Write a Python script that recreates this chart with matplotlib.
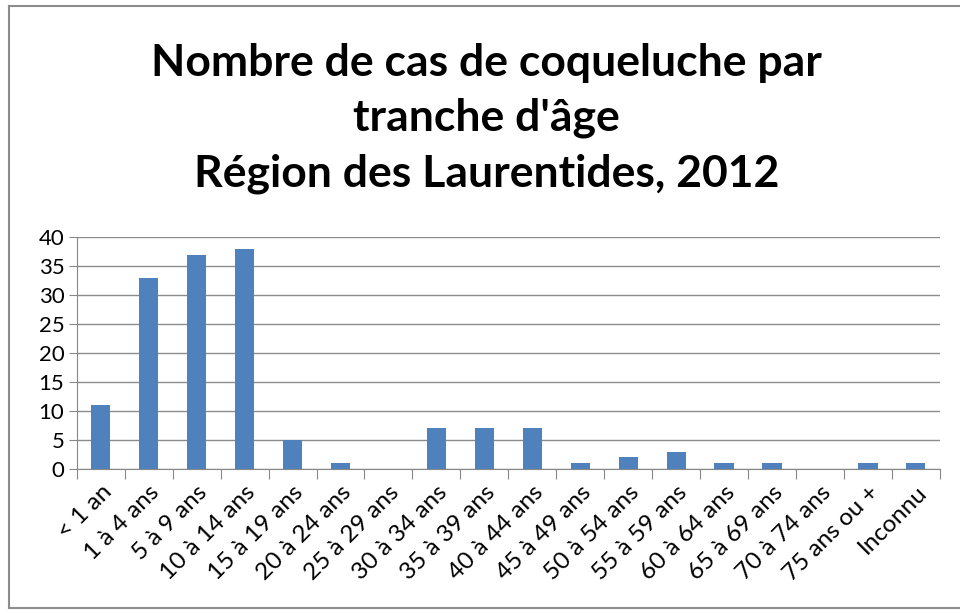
import numpy as np
import matplotlib.pyplot as plt
from matplotlib.lines import Line2D

# Data
categories = ['< 1 an', '1 à 4 ans', '5 à 9 ans', '10 à 14 ans', '15 à 19 ans',
              '20 à 24 ans', '25 à 29 ans', '30 à 34 ans', '35 à 39 ans',
              '40 à 44 ans', '45 à 49 ans', '50 à 54 ans', '55 à 59 ans',
              '60 à 64 ans', '65 à 69 ans', '70 à 74 ans', '75 ans ou +', 'Inconnu']
cases = [11, 33, 37, 38, 5, 1, 0, 7, 7, 7, 1, 2, 3, 1, 1, 0, 1, 1]
yticks = [0, 5, 10, 15, 20, 25, 30, 35, 40]

plt.rcParams['font.family'] = ['Lato', 'DejaVu Sans']

fig = plt.figure(figsize=(9.6, 6.13), dpi=100)
ax = fig.add_axes([0.080, 0.235, 0.899, 0.378])

x = np.arange(len(categories))
ax.bar(x, cases, width=0.4, color='#4F81BD', zorder=3)

ax.set_xlim(-0.5, len(categories) - 0.5)
ax.set_ylim(0, 40)
ax.set_yticks(yticks)
ax.tick_params(axis='y', labelsize=16, length=6, color='#888888', pad=3)

# category labels between boundary ticks
ax.set_xticks(np.arange(len(categories) + 1) - 0.5)
ax.set_xticklabels([])
ax.set_xticks(x, minor=True)
ax.set_xticklabels(categories, minor=True, rotation=45, ha='right',
                   rotation_mode='anchor', fontsize=17.5)
ax.tick_params(axis='x', which='major', length=7, color='#888888')
ax.tick_params(axis='x', which='minor', length=0, pad=9)

ax.grid(axis='y', color='#8c8c8c', linewidth=1, zorder=0)
for s in ['top', 'right']:
    ax.spines[s].set_visible(False)
for s in ['left', 'bottom']:
    ax.spines[s].set_color('#888888')

fig.text(0.507, 0.807, "Nombre de cas de coqueluche par\ntranche d'âge\nRégion des Laurentides, 2012",
         ha='center', va='center', fontsize=32, fontweight='bold', linespacing=1.45)

# outer frame (top, left, bottom)
fx0, fy0, fy1 = 9 / 960, 1 - 608 / 613, 1 - 6 / 613
for xs, ys in [([fx0, 1], [fy1, fy1]), ([fx0, fx0], [fy0, fy1]), ([fx0, 1], [fy0, fy0])]:
    fig.lines.append(Line2D(xs, ys, transform=fig.transFigure,
                            color='#8c8c8c', linewidth=1.5))

fig.savefig('out.png', dpi=100)
